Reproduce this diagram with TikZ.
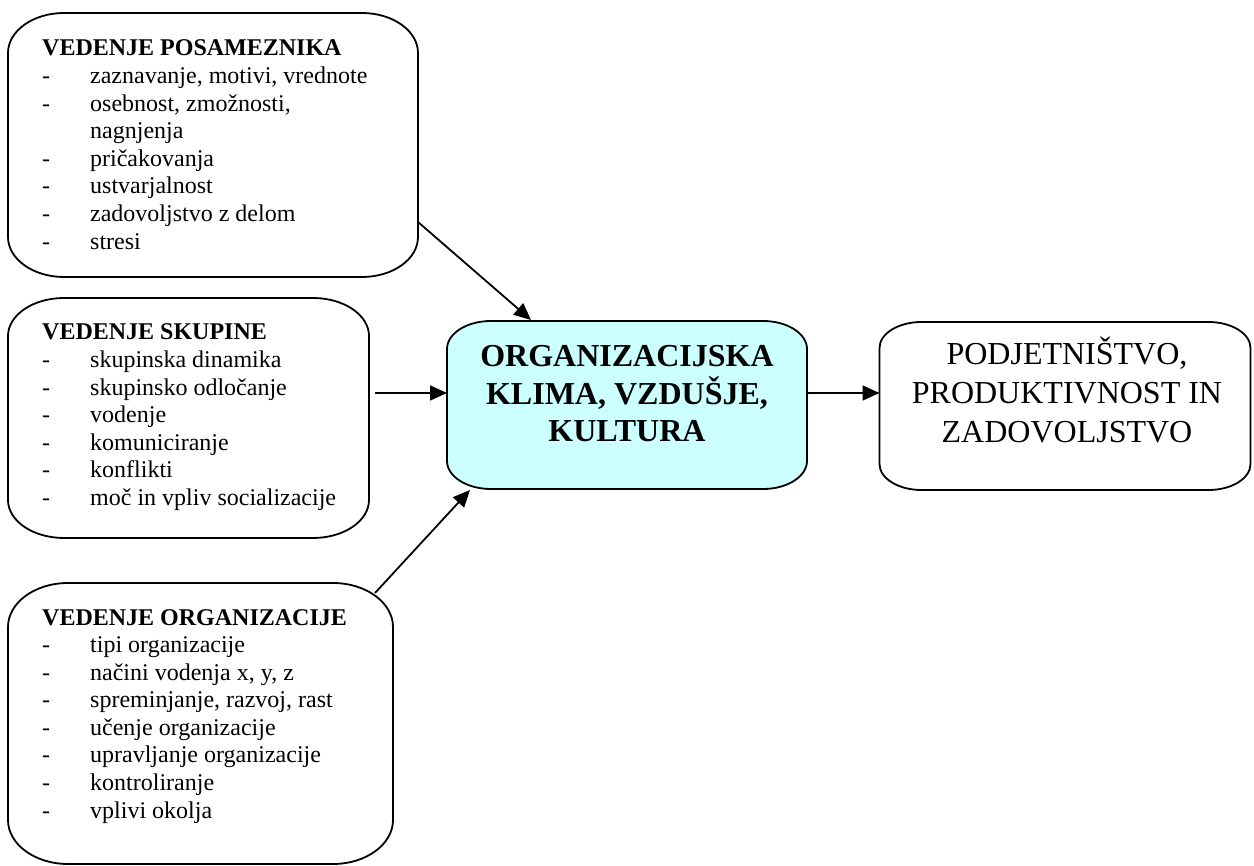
\documentclass[tikz,border=0pt]{standalone}
\usepackage{fontspec}
\setmainfont{Liberation Serif}
\usetikzlibrary{arrows.meta,calc}

\definecolor{climatefill}{HTML}{CCFFFF}

% outline of a node as a rectangle with elliptical corners
% #1 draw options, #2 node name, #3 horizontal radius, #4 vertical radius (pt)
\newcommand\ovalframe[4][]{%
  \draw[frame,#1] ([xshift=#3pt]#2.north west) -- ([xshift=-#3pt]#2.north east)
    arc[start angle=90,end angle=0,x radius=#3pt,y radius=#4pt]
    -- ([yshift=#4pt]#2.south east)
    arc[start angle=0,end angle=-90,x radius=#3pt,y radius=#4pt]
    -- ([xshift=#3pt]#2.south west)
    arc[start angle=270,end angle=180,x radius=#3pt,y radius=#4pt]
    -- ([yshift=-#4pt]#2.north west)
    arc[start angle=180,end angle=90,x radius=#3pt,y radius=#4pt] -- cycle;}

% one list entry: dash, tab, text
\newcommand\li[1]{\makebox[48pt][l]{-}#1}

\begin{document}
\begin{tikzpicture}[x=1pt,y=-1pt,
  box/.style={rectangle, draw=none, inner sep=0pt, outer sep=0pt},
  frame/.style={line width=1.8pt, line join=round},
  listtext/.style={anchor=base west, inner sep=0pt, font=\fontsize{24}{27.6}\selectfont},
  arr/.style={line width=1.8pt, -{Triangle[length=17pt,width=15pt]}}]
\useasboundingbox (0,0) rectangle (1254,866);

% boxes
\node[box, minimum width=410pt, minimum height=264pt] (p) at (213,145) {};
\node[box, minimum width=361pt, minimum height=240pt] (s) at (188.5,418) {};
\node[box, minimum width=385pt, minimum height=281pt] (o) at (200.5,723.5) {};
\node[box, minimum width=360pt, minimum height=168pt] (c) at (627,405) {};
\node[box, minimum width=371pt, minimum height=168pt] (r) at (1065,406) {};

\ovalframe{p}{56}{40}
\ovalframe{s}{56}{38}
\ovalframe{o}{60}{44}
\ovalframe[fill=climatefill]{c}{44}{28}
\ovalframe{r}{42}{26}

% texts
\node[listtext] (pt) at (42,56) {\parbox[t]{370pt}{%
  \textbf{VEDENJE POSAMEZNIKA}\\
  \li{zaznavanje, motivi, vrednote}\\
  \li{osebnost, zmožnosti,}\\
  \hspace*{48pt}nagnjenja\\
  \li{pričakovanja}\\
  \li{ustvarjalnost}\\
  \li{zadovoljstvo z delom}\\
  \li{stresi}}};

\node[listtext] (st) at (42,340) {\parbox[t]{320pt}{%
  \textbf{VEDENJE SKUPINE}\\
  \li{skupinska dinamika}\\
  \li{skupinsko odločanje}\\
  \li{vodenje}\\
  \li{komuniciranje}\\
  \li{konflikti}\\
  \li{moč in vpliv socializacije}}};

\node[listtext] (ot) at (42,625) {\parbox[t]{345pt}{%
  \textbf{VEDENJE ORGANIZACIJE}\\
  \li{tipi organizacije}\\
  \li{načini vodenja x, y, z}\\
  \li{spreminjanje, razvoj, rast}\\
  \li{učenje organizacije}\\
  \li{upravljanje organizacije}\\
  \li{kontroliranje}\\
  \li{vplivi okolja}}};

\node[anchor=base, inner sep=0pt, font=\bfseries\fontsize{32}{37.5}\selectfont]
  (ct) at (627,367) {\parbox[t]{350pt}{\centering
  ORGANIZACIJSKA\\ KLIMA, VZDUŠJE,\\ KULTURA}};

\node[anchor=base, inner sep=0pt, font=\fontsize{32}{39}\selectfont]
  (rt) at (1067,365) {\parbox[t]{365pt}{\centering
  PODJETNIŠTVO,\\ PRODUKTIVNOST IN\\ ZADOVOLJSTVO}};

% connectors
\draw[arr] ($(p.east)+(0,77)$) -- ($(c.north)+(-96,-1)$);
\draw[arr] ($(s.east)+(6,-25)$) -- ($(c.west)+(0,-12)$);
\draw[arr] ($(o.north east)+(-18,10)$) -- ($(c.south)+(-157,1)$);
\draw[arr] ($(c.east)+(0,-12)$) -- ($(r.west)+(0,-13)$);
\end{tikzpicture}
\end{document}
